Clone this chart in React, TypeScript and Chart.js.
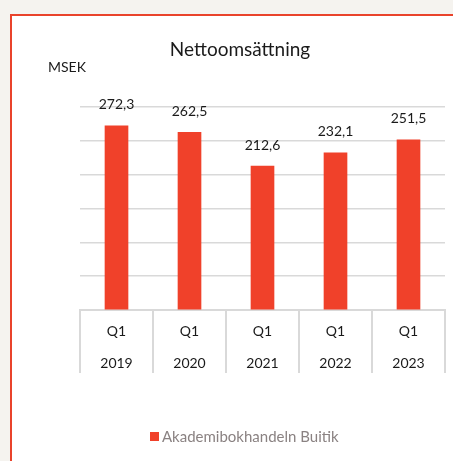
import React, { useEffect, useRef } from "react";
import { Chart, registerables } from "chart.js";

Chart.register(...registerables);

const quarters = ["Q1", "Q1", "Q1", "Q1", "Q1"];
const years = ["2019", "2020", "2021", "2022", "2023"];
const netSales = [272.3, 262.5, 212.6, 232.1, 251.5];
const seriesName = "Akademibokhandeln Buitik";
const chartTitle = "Nettoomsättning";
const unitLabel = "MSEK";

const FONT = "Lato, 'Open Sans', sans-serif";
const BAR_COLOR = "#f0412a";

export default function App() {
  const canvasRef = useRef<HTMLCanvasElement | null>(null);

  useEffect(() => {
    const canvas = canvasRef.current;
    if (!canvas) return;

    const overlay = {
      id: "overlay",
      afterDatasetsDraw(chart: any) {
        const ctx = chart.ctx;
        const meta = chart.getDatasetMeta(0);
        ctx.save();
        ctx.fillStyle = "#1a1a1a";
        ctx.font = `14px ${FONT}`;
        ctx.textAlign = "center";
        ctx.textBaseline = "middle";
        meta.data.forEach((bar: any, i: number) => {
          const txt = netSales[i].toFixed(1).replace(".", ",");
          ctx.fillText(txt, bar.x, bar.y - 21);
        });
        // title
        ctx.font = `19px ${FONT}`;
        ctx.fillStyle = "#1a1a1a";
        ctx.fillText(chartTitle, 240, 50);
        // unit
        ctx.font = `14px ${FONT}`;
        ctx.textAlign = "left";
        ctx.fillText(unitLabel, 48, 67);
        // legend
        ctx.fillStyle = BAR_COLOR;
        ctx.fillRect(150, 432, 9, 9);
        ctx.fillStyle = "#8a8282";
        ctx.font = `15px ${FONT}`;
        ctx.fillText(seriesName, 162, 437);
        ctx.restore();
      },
    };

    const chart = new Chart(canvas, {
      type: "bar",
      data: {
        labels: years.map((y, i) => [quarters[i], y]),
        datasets: [
          {
            label: seriesName,
            data: netSales,
            backgroundColor: BAR_COLOR,
            borderWidth: 0,
            barThickness: 23,
          },
        ],
      },
      options: {
        animation: false,
        responsive: false,
        devicePixelRatio: 1,
        layout: { padding: { left: 0, right: 8, top: 107, bottom: 88 } },
        plugins: {
          legend: { display: false },
          title: { display: false },
          tooltip: { enabled: false },
        },
        scales: {
          x: {
            grid: {
              drawOnChartArea: false,
              drawTicks: true,
              tickLength: 63,
              color: "#d9d9d9",
              lineWidth: 2,
            },
            border: { display: true, color: "#d9d9d9", width: 2 },
            ticks: {
              color: "#1a1a1a",
              font: { family: FONT, size: 14, lineHeight: 2.3 },
              padding: -58,
              maxRotation: 0,
              autoSkip: false,
            },
            afterFit(scale: any) {
              scale.height = 63;
            },
          },
          y: {
            min: 0,
            max: 300,
            ticks: { display: false, stepSize: 50 },
            grid: { color: "#d9d9d9", lineWidth: 1.5, drawTicks: false },
            border: { display: false },
            afterFit(scale: any) {
              scale.width = 80;
            },
          },
        },
      },
      plugins: [overlay],
    });

    return () => chart.destroy();
  }, []);

  return (
    <div
      style={{
        position: "fixed",
        left: 0,
        top: 0,
        width: 453,
        height: 461,
        background: "#f5f3ef",
        overflow: "hidden",
      }}
    >
      <div
        style={{
          position: "absolute",
          left: 10,
          top: 14,
          width: 460,
          height: 460,
          background: "#ffffff",
          border: "2px solid #e9432b",
          boxSizing: "border-box",
        }}
      />
      <canvas
        ref={canvasRef}
        width={453}
        height={461}
        style={{ position: "absolute", left: 0, top: 0, width: 453, height: 461 }}
      />
    </div>
  );
}
